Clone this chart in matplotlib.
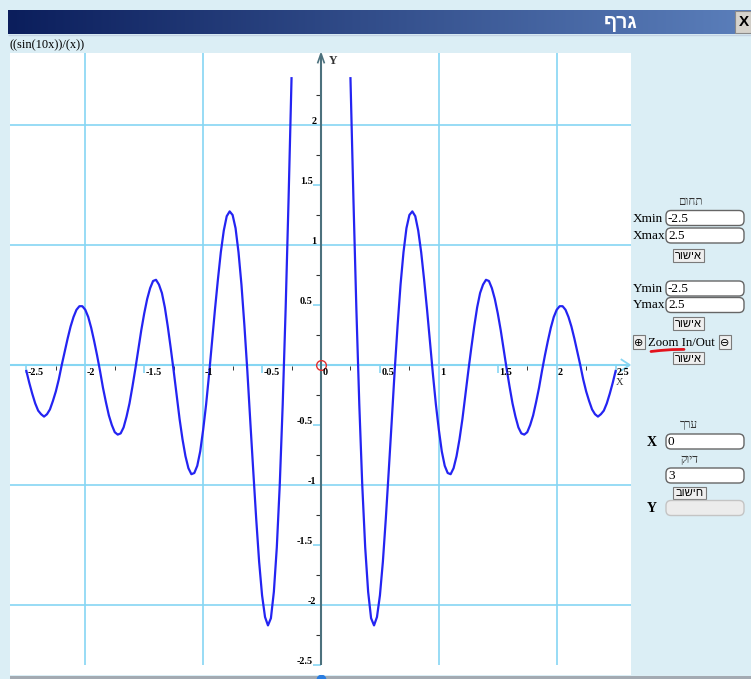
import numpy as np
import matplotlib
matplotlib.use('Agg')
import matplotlib.pyplot as plt
from matplotlib.colors import LinearSegmentedColormap
from matplotlib.patches import Rectangle, FancyBboxPatch


# ---  DATA  --- #
# ---------------------------------------- #
# Right half of the plotted curve (x > 0); the graph is mirror symmetric,
# the left half uses the same values at -x
curve_x = np.array([
    0.250, 0.275, 0.300, 0.325, 0.350, 0.375, 0.400, 0.425, 0.450, 0.475,
    0.500, 0.525, 0.550, 0.575, 0.600, 0.625, 0.650, 0.675, 0.700, 0.725,
    0.750, 0.775, 0.800, 0.825, 0.850, 0.875, 0.900, 0.925, 0.950, 0.975,
    1.000, 1.025, 1.050, 1.075, 1.100, 1.125, 1.150, 1.175, 1.200, 1.225,
    1.250, 1.275, 1.300, 1.325, 1.350, 1.375, 1.400, 1.425, 1.450, 1.475,
    1.500, 1.525, 1.550, 1.575, 1.600, 1.625, 1.650, 1.675, 1.700, 1.725,
    1.750, 1.775, 1.800, 1.825, 1.850, 1.875, 1.900, 1.925, 1.950, 1.975,
    2.000, 2.025, 2.050, 2.075, 2.100, 2.125, 2.150, 2.175, 2.200, 2.225,
    2.250, 2.275, 2.300, 2.325, 2.350, 2.375, 2.400, 2.425, 2.450, 2.475,
    2.500,
])
curve_y = np.array([
    2.39, 1.39, 0.47, -0.33, -1.00, -1.52, -1.89, -2.11, -2.17, -2.10,
    -1.92, -1.64, -1.28, -0.88, -0.47, -0.05, 0.33, 0.67, 0.94, 1.14,
    1.25, 1.28, 1.24, 1.12, 0.94, 0.71, 0.46, 0.19, -0.08, -0.33,
    -0.54, -0.72, -0.84, -0.90, -0.91, -0.86, -0.76, -0.62, -0.45, -0.25,
    -0.05, 0.14, 0.32, 0.48, 0.60, 0.67, 0.71, 0.70, 0.64, 0.55,
    0.43, 0.29, 0.13, -0.03, -0.18, -0.32, -0.43, -0.52, -0.57, -0.58,
    -0.56, -0.50, -0.42, -0.31, -0.19, -0.05, 0.08, 0.20, 0.31, 0.40,
    0.46, 0.49, 0.49, 0.46, 0.40, 0.32, 0.22, 0.11, 0.00, -0.12,
    -0.22, -0.30, -0.37, -0.41, -0.43, -0.41, -0.38, -0.32, -0.24, -0.15,
    -0.05,
])

grid_x = [-2, -1, 1, 2]
grid_y = [-2, -1, 1, 2]
x_half_ticks = [-2.5, -1.5, -0.5, 0.5, 1.5, 2.5]
x_quarter_ticks = [-2.25, -1.75, -1.25, -0.75, -0.25,
                   0.25, 0.75, 1.25, 1.75, 2.25]
y_half_ticks = [1.5, 0.5, -0.5, -1.5, -2.5]
y_quarter_ticks = [2.25, 1.75, 1.25, 0.75, 0.25,
                   -0.25, -0.75, -1.25, -1.75, -2.25]
x_tick_values = [-2.5, -2, -1.5, -1, -0.5, 0, 0.5, 1, 1.5, 2, 2.5]
x_tick_labels = ['-2.5', '-2', '-1.5', '-1', '-0.5', '0',
                 '0.5', '1', '1.5', '2', '2.5']
y_tick_values = [2, 1.5, 1, 0.5, -0.5, -1, -1.5, -2, -2.5]
y_tick_labels = ['2', '1.5', '1', '0.5', '-0.5', '-1', '-1.5', '-2', '-2.5']

formula = '((sin(10x))/(x))'
window_title = 'גרף'
range_title = 'תחום'
ok_label = 'אישור'
value_title = 'ערך'
precision_title = 'דיוק'
calc_label = 'חישוב'
range_fields = [('Xmin', '-2.5'), ('Xmax', '2.5'),
                ('Ymin', '-2.5'), ('Ymax', '2.5')]
x_value = '0'
precision_value = '3'


# ---  STYLE  --- #
# --------------- #
W, H = 751, 679
PANEL = '#dbeef5'
GRID = '#86d6f3'
AXIS = '#4c717d'
CURVE = '#2424f2'
SERIF = ['Liberation Serif', 'DejaVu Serif', 'DejaVu Sans']
SANS = ['Liberation Sans', 'DejaVu Sans']
plt.rcParams['font.family'] = SERIF


def rtl(s):
    # matplotlib lays text out left to right, so Hebrew is reversed here
    return s[::-1]


def input_box(bg, x0, x1, yc, text, disabled=False):
    fc = '#ececec' if disabled else 'white'
    ec = '#c4c4c4' if disabled else '#666666'
    bg.add_patch(FancyBboxPatch((x0, yc - 7.5), x1 - x0, 15,
                                boxstyle='round,pad=0,rounding_size=5',
                                fc=fc, ec=ec, lw=1))
    if text:
        bg.text(x0 + 2, yc + 0.5, text, size=9.5, ha='left', va='center')


def button(bg, x0, x1, y0, y1, label):
    bg.add_patch(Rectangle((x0, y0), x1 - x0, y1 - y0,
                           fc='#efefef', ec='#7a7a7a', lw=0.8))
    bg.text((x0 + x1) / 2, (y0 + y1) / 2 + 0.5, rtl(label), size=8,
            ha='center', va='center', family=SANS)


# ---   MAIN   --- #
# ---------------- #
if __name__ == '__main__':
    fig = plt.figure(figsize=(W / 100, H / 100), dpi=100, facecolor=PANEL)

    # Background layer in pixel coordinates (window chrome and side panel)
    bg = fig.add_axes([0, 0, 1, 1], zorder=0)
    bg.set_facecolor(PANEL)
    cmap = LinearSegmentedColormap.from_list('bar', ['#0b1e5c', '#5b7fbb'])
    bg.imshow(np.linspace(0, 1, 256)[None, :], extent=(8, 751, 34, 10),
              aspect='auto', cmap=cmap, interpolation='bilinear')
    bg.hlines(35, 8, 751, color='#c3d3e3', lw=1)
    bg.text(621, 23.5, rtl(window_title), color='white', size=14,
            weight='bold', ha='center', va='center', family=SANS)
    bg.add_patch(Rectangle((735, 11), 16, 22, fc='#d6d3cc', ec='#8a8a8a',
                           lw=0.8))
    bg.text(744, 22.5, 'X', size=11, weight='bold', ha='center',
            va='center', family=SANS)
    bg.text(10, 45, formula, size=9, ha='left', va='center')
    # Scrollbar strip at the bottom
    bg.add_patch(Rectangle((10, 676), 741, 3, fc='#a3aab2', ec='none'))
    bg.plot(321, 679, 'o', ms=6, color='#2a7de1')

    # Side panel: range fields
    bg.text(690, 202, rtl(range_title), size=8.5, color='#333333',
            ha='center', va='center')
    field_y = [218, 235.5, 288.5, 305]
    for (name, val), yc in zip(range_fields, field_y):
        bg.text(633, yc + 0.5, name, size=9.5, ha='left', va='center')
        input_box(bg, 666, 744, yc, val)
    button(bg, 673, 704, 249, 262, ok_label)
    button(bg, 673, 704, 317, 330, ok_label)
    # Zoom in/out row
    for x0, sym in [(633, '⊕'), (719, '⊖')]:
        bg.add_patch(Rectangle((x0, 335), 12, 14, fc='#efefef',
                               ec='#7a7a7a', lw=0.8))
        bg.text(x0 + 6, 342.5, sym, size=8, ha='center', va='center',
                family=['DejaVu Sans'])
    bg.text(648, 342.5, 'Zoom In/Out', size=9.2, ha='left', va='center')
    bg.plot([651, 660, 672, 684], [351.5, 350.5, 349.6, 349.4],
            color='#e3121c', lw=2, solid_capstyle='round')
    button(bg, 673, 704, 352, 364, ok_label)
    # Value / precision calculator
    bg.text(689, 425, rtl(value_title), size=8.5, color='#333333',
            ha='center', va='center')
    bg.text(652, 442, 'X', size=10, weight='bold', ha='center', va='center')
    input_box(bg, 666, 744, 441.5, x_value)
    bg.text(689, 460, rtl(precision_title), size=8.5, color='#333333',
            ha='center', va='center')
    input_box(bg, 666, 744, 475.5, precision_value)
    button(bg, 673, 706, 487, 499, calc_label)
    bg.text(652, 508, 'Y', size=10, weight='bold', ha='center', va='center')
    input_box(bg, 666, 744, 508, '', disabled=True)

    bg.set_xlim(0, W)
    bg.set_ylim(H, 0)
    bg.axis('off')

    # Graph area: origin at pixel (321, 365), 117.85 px per x unit,
    # 120 px per y unit
    ax = fig.add_axes([10 / W, (H - 675) / H, 621 / W, (675 - 52.7) / H],
                      zorder=1)
    ax.set_facecolor('white')
    xlo, xhi = (10 - 321) / 117.85, (631 - 321) / 117.85
    ylo, yhi = (365 - 675) / 120, (365 - 52.7) / 120
    ax.set_xlim(xlo, xhi)
    ax.set_ylim(ylo, yhi)
    for s in ax.spines.values():
        s.set_visible(False)
    ax.set_xticks([])
    ax.set_yticks([])

    # Grid
    ax.vlines(grid_x, -2.5, yhi, color=GRID, lw=1.2, zorder=1)
    ax.hlines(grid_y, xlo, xhi, color=GRID, lw=1.2, zorder=1)
    # X axis (light) with arrow
    ax.hlines(0, xlo, 2.615, color=GRID, lw=1.5, zorder=2)
    ax.plot([2.55, 2.62, 2.55], [0.045, 0, -0.045], color=GRID, lw=1.3,
            zorder=2)
    ax.vlines(x_half_ticks, -0.065, 0, color=GRID, lw=1.2, zorder=2)
    ax.vlines(x_quarter_ticks, -0.045, -0.005, color='#333333', lw=0.7,
              zorder=2)
    # Y axis (dark) with arrow
    ax.vlines(0, -2.5, 2.595, color=AXIS, lw=1.5, zorder=3)
    ax.plot([-0.027, 0, 0.027], [2.52, 2.595, 2.52], color=AXIS, lw=1.2,
            zorder=3)
    ax.hlines(y_half_ticks, -0.068, 0, color=GRID, lw=1.2, zorder=2)
    ax.hlines(y_quarter_ticks, -0.045, 0, color='#333333', lw=0.8, zorder=2)

    # Tick labels
    for v, lab in zip(x_tick_values, x_tick_labels):
        ax.text(v + 0.012, -0.085, lab, size=7.3, weight='bold',
                ha='left', va='baseline', zorder=6)
    for v, lab in zip(y_tick_values, y_tick_labels):
        xpos = -0.07 if '.' in lab else -0.04
        ax.text(xpos, v + 0.005, lab, size=7.3, weight='bold',
                ha='right', va='baseline', zorder=6)
    ax.text(0.07, 2.53, 'Y', size=8.5, weight='bold', color='#333333',
            ha='left', va='center')
    # axis name sits just under the "2.5" label
    ax.text(2.505, -0.105, 'X', size=7.5, color='#333333', ha='left',
            va='top', zorder=6)

    # Curve: right half and its mirror image
    ax.plot(curve_x, curve_y, color=CURVE, lw=1.6, zorder=4)
    ax.plot(-curve_x[::-1], curve_y[::-1], color=CURVE, lw=1.6, zorder=4)
    # Marker at the origin
    ax.plot(0, 0, 'o', ms=7, mfc='none', mec='#e03030', mew=1.0, zorder=5)

    fig.savefig('out.png', dpi=100, facecolor=PANEL)
